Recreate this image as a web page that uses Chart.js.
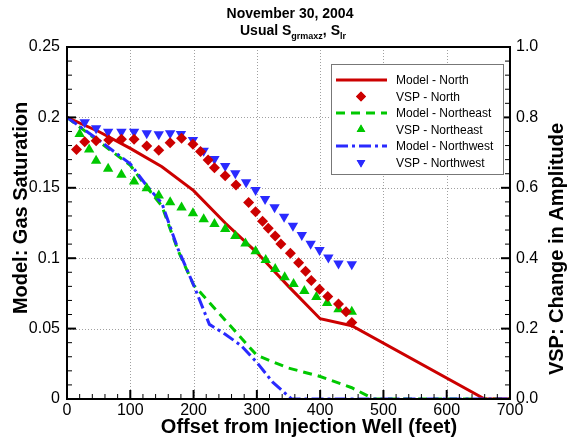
<!DOCTYPE html>
<html>
<head>
<meta charset="utf-8">
<script src="https://cdn.jsdelivr.net/npm/chart.js@4.4.1/dist/chart.umd.min.js"></script>
<style>
  html, body { margin: 0; padding: 0; background: #fff; }
  canvas { display: block; }
</style>
</head>
<body>
<canvas id="chart" width="570" height="441"></canvas>
<script>
// model curves, gas saturation (left axis)
const northModelX = [0, 50, 100, 150, 200, 250, 300, 350, 400, 450, 660, 700];
const northModelY = [0.2, 0.19, 0.178, 0.165, 0.148, 0.125, 0.104, 0.08, 0.057, 0.052, 0, 0];
const northeastModelX = [0, 50, 100, 125, 150, 175, 200, 250, 300, 350, 400, 450, 485, 700];
const northeastModelY = [0.2, 0.183, 0.166, 0.151, 0.137, 0.106, 0.081, 0.056, 0.031, 0.022, 0.016, 0.008, 0, 0];
const northwestModelX = [0, 50, 100, 125, 150, 175, 200, 225, 250, 275, 300, 325, 355, 700];
const northwestModelY = [0.2, 0.184, 0.167, 0.152, 0.139, 0.107, 0.081, 0.053, 0.046, 0.038, 0.026, 0.012, 0, 0];

// VSP measurements, change in amplitude (right axis)
const northVspX = [15, 28, 46, 66, 86, 106, 126, 145, 163, 181, 199, 211, 223, 233, 250, 267, 287, 298, 309, 318, 329, 338, 353, 366, 377, 386, 399, 412, 429, 441, 450];
const northVspY = [0.709, 0.731, 0.734, 0.736, 0.738, 0.738, 0.719, 0.707, 0.728, 0.741, 0.724, 0.703, 0.679, 0.657, 0.634, 0.608, 0.558, 0.532, 0.505, 0.485, 0.463, 0.44, 0.414, 0.387, 0.363, 0.337, 0.312, 0.291, 0.27, 0.248, 0.217];
const northeastVspX = [20, 35, 46, 65, 86, 106, 126, 145, 163, 181, 199, 216, 233, 250, 266, 282, 298, 314, 329, 344, 358, 375, 394, 411, 429, 450];
const northeastVspY = [0.753, 0.709, 0.677, 0.654, 0.637, 0.618, 0.599, 0.578, 0.559, 0.544, 0.528, 0.511, 0.497, 0.483, 0.463, 0.442, 0.42, 0.395, 0.369, 0.346, 0.327, 0.307, 0.29, 0.273, 0.255, 0.248];
const northwestVspX = [28, 46, 65, 86, 106, 126, 145, 163, 180, 199, 216, 233, 250, 266, 283, 298, 313, 328, 343, 357, 371, 385, 399, 413, 429, 450];
const northwestVspY = [0.786, 0.769, 0.759, 0.759, 0.759, 0.755, 0.752, 0.755, 0.753, 0.736, 0.705, 0.682, 0.662, 0.641, 0.616, 0.594, 0.568, 0.545, 0.518, 0.492, 0.466, 0.441, 0.423, 0.402, 0.385, 0.383];

const xTicks = [0, 100, 200, 300, 400, 500, 600, 700];
const leftTickLabels = ['0', '0.05', '0.1', '0.15', '0.2', '0.25'];
const rightTickLabels = ['0.0', '0.2', '0.4', '0.6', '0.8', '1.0'];

const RED = '#cc0000';
const GREEN = '#00c800';
const BLUE = '#2a2aff';
const FONT = '"Liberation Sans", Arial, sans-serif';
const NE_DASH = [9, 6];
const NW_DASH = [12, 4, 3, 4];

const pts = (xs, ys) => xs.map((x, i) => ({ x: x, y: ys[i] }));

const data = {
  datasets: [
    { label: 'Model - North', data: pts(northModelX, northModelY), yAxisID: 'y',
      showLine: true, borderColor: RED, borderWidth: 3, pointRadius: 0, order: 3 },
    { label: 'VSP - North', data: pts(northVspX, northVspY), yAxisID: 'y2',
      pointStyle: 'rectRot', pointRadius: 5.5, backgroundColor: RED, borderColor: RED, borderWidth: 0, order: 1 },
    { label: 'Model - Northeast', data: pts(northeastModelX, northeastModelY), yAxisID: 'y',
      showLine: true, borderColor: GREEN, borderWidth: 3, borderDash: NE_DASH, pointRadius: 0, order: 3 },
    { label: 'VSP - Northeast', data: pts(northeastVspX, northeastVspY), yAxisID: 'y2',
      pointStyle: 'triangle', pointRadius: 6, backgroundColor: GREEN, borderColor: GREEN, borderWidth: 0, order: 1 },
    { label: 'Model - Northwest', data: pts(northwestModelX, northwestModelY), yAxisID: 'y',
      showLine: true, borderColor: BLUE, borderWidth: 3, borderDash: NW_DASH, pointRadius: 0, order: 2 },
    { label: 'VSP - Northwest', data: pts(northwestVspX, northwestVspY), yAxisID: 'y2',
      pointStyle: 'triangle', rotation: 180, pointRadius: 6, backgroundColor: BLUE, borderColor: BLUE, borderWidth: 0, order: 1 }
  ]
};

// frame, dotted grid, inward ticks, titles and legend
const decor = {
  id: 'decor',
  beforeDatasetsDraw(chart) {
    const { ctx, chartArea: a, scales } = chart;
    ctx.save();
    ctx.strokeStyle = '#a0a0a0';
    ctx.lineWidth = 1;
    ctx.setLineDash([1, 2]);
    xTicks.slice(1, -1).forEach(v => {
      const px = Math.round(scales.x.getPixelForValue(v)) + 0.5;
      ctx.beginPath(); ctx.moveTo(px, a.top); ctx.lineTo(px, a.bottom); ctx.stroke();
    });
    for (let i = 1; i < leftTickLabels.length - 1; i++) {
      const py = Math.round(scales.y.getPixelForValue(i * 0.05)) + 0.5;
      ctx.beginPath(); ctx.moveTo(a.left, py); ctx.lineTo(a.right, py); ctx.stroke();
    }
    ctx.restore();
  },
  afterDraw(chart) {
    const { ctx, chartArea: a, scales } = chart;
    ctx.save();
    ctx.strokeStyle = '#000';
    // minor + major ticks pointing inside
    for (let i = 0; i <= 25; i++) {
      const py = scales.y.getPixelForValue(i * 0.01);
      const major = i % 5 === 0;
      ctx.lineWidth = major ? 2 : 1;
      const len = major ? 9 : 5;
      ctx.beginPath(); ctx.moveTo(a.left, py); ctx.lineTo(a.left + len, py); ctx.stroke();
      ctx.beginPath(); ctx.moveTo(a.right, py); ctx.lineTo(a.right - len, py); ctx.stroke();
    }
    for (let v = 0; v <= 700; v += 20) {
      const px = scales.x.getPixelForValue(v);
      const major = v % 100 === 0;
      ctx.lineWidth = major ? 2 : 1;
      ctx.beginPath(); ctx.moveTo(px, a.bottom); ctx.lineTo(px, a.bottom - (major ? 9 : 5)); ctx.stroke();
    }
    ctx.lineWidth = 2;
    ctx.strokeRect(a.left, a.top, a.right - a.left, a.bottom - a.top);

    // title with subscripts
    ctx.fillStyle = '#000';
    ctx.textBaseline = 'alphabetic';
    ctx.textAlign = 'left';
    ctx.font = 'bold 14px ' + FONT;
    const t1 = 'November 30, 2004';
    ctx.fillText(t1, 290 - ctx.measureText(t1).width / 2, 18);
    const parts = [['Usual S', false], ['grmaxz', true], [', S', false], ['lr', true]];
    const widthOf = p => { ctx.font = (p[1] ? 'bold 9px ' : 'bold 14px ') + FONT; return ctx.measureText(p[0]).width; };
    const total = parts.reduce((s, p) => s + widthOf(p), 0);
    let cx = 293 - total / 2;
    parts.forEach(p => {
      const w = widthOf(p);
      ctx.fillText(p[0], cx, p[1] ? 39 : 35);
      cx += w;
    });

    // axis titles
    ctx.font = 'bold 20px ' + FONT;
    ctx.textAlign = 'center';
    ctx.textBaseline = 'middle';
    ctx.fillText('Offset from Injection Well (feet)', 309, 427);
    ctx.save();
    ctx.translate(21, 208);
    ctx.rotate(-Math.PI / 2);
    ctx.fillText('Model: Gas Saturation', 0, 0);
    ctx.restore();
    ctx.save();
    ctx.translate(557, 249);
    ctx.rotate(-Math.PI / 2);
    ctx.fillText('VSP: Change in Amplitude', 0, 0);
    ctx.restore();

    // legend
    const bx = 331, by = 64, bw = 172, bh = 110;
    ctx.fillStyle = '#fff';
    ctx.fillRect(bx, by, bw, bh);
    ctx.strokeStyle = '#777';
    ctx.lineWidth = 1;
    ctx.strokeRect(bx + 0.5, by + 0.5, bw, bh);
    ctx.font = '12px ' + FONT;
    ctx.textAlign = 'left';
    chart.data.datasets.forEach((ds, i) => {
      const ly = 80 + i * 16.5;
      if (ds.showLine) {
        ctx.save();
        ctx.strokeStyle = ds.borderColor;
        ctx.lineWidth = 3;
        ctx.setLineDash(ds.borderDash || []);
        ctx.beginPath(); ctx.moveTo(336, ly); ctx.lineTo(387, ly); ctx.stroke();
        ctx.restore();
      } else {
        ctx.fillStyle = ds.backgroundColor;
        Chart.helpers.drawPoint(ctx, { pointStyle: ds.pointStyle, radius: 5, rotation: ds.rotation || 0, borderWidth: 0 }, 361, ly);
        ctx.fill();
      }
      ctx.fillStyle = '#000';
      ctx.fillText(ds.label, 396, ly + 1);
    });
    ctx.restore();
  }
};

const tickFont = { family: FONT, size: 16 };

new Chart(document.getElementById('chart'), {
  type: 'scatter',
  data: data,
  options: {
    responsive: false,
    animation: false,
    layout: { padding: { top: 47, left: 0, right: 0, bottom: 0 } },
    plugins: { legend: { display: false }, tooltip: { enabled: false }, title: { display: false } },
    scales: {
      x: {
        type: 'linear', min: 0, max: 700,
        afterBuildTicks: s => { s.ticks = xTicks.map(v => ({ value: v })); },
        ticks: { font: tickFont, color: '#000', padding: 2, maxRotation: 0 },
        grid: { display: false, drawTicks: false },
        border: { display: false },
        afterFit: s => { s.height = 42; }
      },
      y: {
        position: 'left', min: 0, max: 0.25,
        afterBuildTicks: s => { s.ticks = leftTickLabels.map((t, i) => ({ value: i * 0.05 })); },
        ticks: { font: tickFont, color: '#000', padding: 7,
          callback: (v, i) => leftTickLabels[i] },
        grid: { display: false, drawTicks: false },
        border: { display: false },
        afterFit: s => { s.width = 67; }
      },
      y2: {
        position: 'right', min: 0, max: 1,
        afterBuildTicks: s => { s.ticks = rightTickLabels.map((t, i) => ({ value: i * 0.2 })); },
        ticks: { font: tickFont, color: '#000', padding: 6,
          callback: (v, i) => rightTickLabels[i] },
        grid: { display: false, drawTicks: false },
        border: { display: false },
        afterFit: s => { s.width = 60; }
      }
    }
  },
  plugins: [decor]
});
</script>
</body>
</html>
